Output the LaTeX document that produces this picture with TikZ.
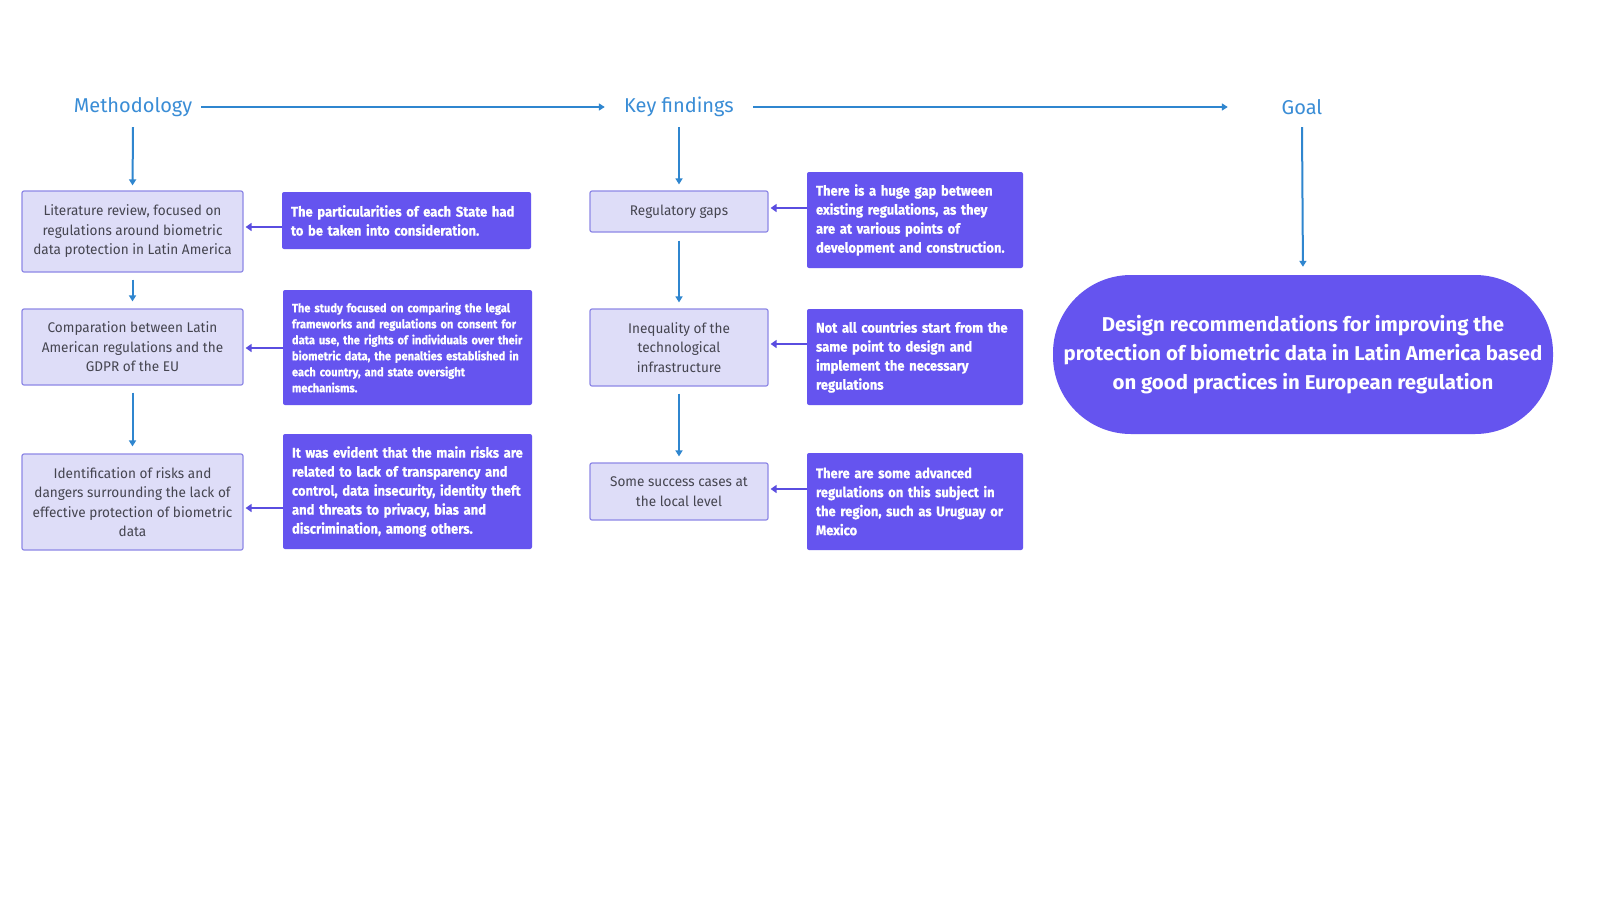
\documentclass[tikz,border=0pt]{standalone}
\usepackage{fontspec}
\setmainfont{Fira Sans}
\newfontfamily\headf{Fira Sans}
\newfontfamily\lightf[FakeStretch=0.97]{Fira Sans}
\newfontfamily\darkf[FakeStretch=0.93,FakeBold=0.6]{Fira Sans}
\newfontfamily\goalf[FakeStretch=1.02]{Fira Sans}
\usetikzlibrary{arrows.meta}
\definecolor{hblue}{HTML}{3A8DD6}
\definecolor{ablue}{HTML}{2F86CF}
\definecolor{lfill}{HTML}{DEDDF8}
\definecolor{lbord}{HTML}{8E88E6}
\definecolor{dfill}{HTML}{6554EF}
\definecolor{parr}{HTML}{5A4DE0}
\definecolor{ltext}{HTML}{454550}
\tikzset{
  heading/.style={text=hblue, font=\headf\fontsize{20}{24}\selectfont, inner sep=0pt, minimum height=40pt},
  lightbox/.style={draw=lbord, line width=1.2pt, fill=lfill, rounded corners=2pt, align=center, text=ltext,
    font=\lightf\fontsize{14}{19.5}\selectfont, inner sep=0pt},
  darkbox/.style={fill=dfill, rounded corners=2pt, align=left, text=white,
    font=\darkf\bfseries\fontsize{14}{19}\selectfont, inner sep=0pt},
  barrow/.style={draw=ablue, line width=2pt, -{Triangle[length=6pt,width=7pt]}},
  parrow/.style={draw=parr, line width=2.6pt, -{Triangle[length=6pt,width=8pt]}},
}
\begin{document}
\begin{tikzpicture}[x=1pt,y=-1pt]
\useasboundingbox (0,0) rectangle (1600,900);
\fill[white] (0,0) rectangle (1600,900);
% headings
\node[heading, minimum width=136pt] (meth) at (133,107) {Methodology};
\node[heading, minimum width=148pt] (kf) at (679,107) {Key findings};
\node[heading, minimum width=148pt] (goal) at (1302,107) {Goal};
\draw[barrow] (meth.east) -- (kf.west);
\draw[barrow] (kf.east) -- (goal.west);
% left column
\node[lightbox, minimum width=221pt, minimum height=81pt] (l1) at (132.5,231.5)
  {Literature review, focused on\\regulations around biometric\\data protection in Latin America};
\node[lightbox, minimum width=221pt, minimum height=76pt] (l2) at (132.5,347)
  {Comparation between Latin\\American regulations and the\\GDPR of the EU};
\node[lightbox, minimum width=221pt, minimum height=96pt] (l3) at (132.5,502)
  {Identification of risks and\\dangers surrounding the lack of\\effective protection of biometric\\data};
\node[darkbox, minimum width=249pt, minimum height=57pt, text width=231pt] (d1) at (406.5,220.5)
  {The particularities of each State had\\to be taken into consideration.};
\node[darkbox, minimum width=249pt, minimum height=115pt, text width=231pt,
  font=\darkf\bfseries\fontsize{11.9}{16}\selectfont] (d2) at (407.5,347.5)
  {The study focused on comparing the legal\\frameworks and regulations on consent for\\data use, the rights of individuals over their\\biometric data, the penalties established in\\each country, and state oversight\\mechanisms.};
\node[darkbox, minimum width=249pt, minimum height=115pt, text width=231pt] (d3) at (407.5,491.5)
  {It was evident that the main risks are\\related to lack of transparency and\\control, data insecurity, identity theft\\and threats to privacy, bias and\\discrimination, among others.};
% middle column
\node[lightbox, minimum width=178pt, minimum height=41pt] (m1) at (679,211.5) {Regulatory gaps};
\node[lightbox, minimum width=178pt, minimum height=77pt] (m2) at (679,347.5)
  {Inequality of the\\technological\\infrastructure};
\node[lightbox, minimum width=178pt, minimum height=57pt] (m3) at (679,491.5)
  {Some success cases at\\the local level};
\node[darkbox, minimum width=216pt, minimum height=96pt, text width=198pt] (d4) at (915,220)
  {There is a huge gap between\\existing regulations, as they\\are at various points of\\development and construction.};
\node[darkbox, minimum width=216pt, minimum height=96pt, text width=198pt] (d5) at (915,357)
  {Not all countries start from the\\same point to design and\\implement the necessary\\regulations};
\node[darkbox, minimum width=216pt, minimum height=97pt, text width=198pt] (d6) at (915,501.5)
  {There are some advanced\\regulations on this subject in\\the region, such as Uruguay or\\Mexico};
% goal
\node[fill=dfill, rounded corners=78pt, minimum width=500pt, minimum height=159pt, inner sep=0pt,
  align=center, text=white, font=\goalf\bfseries\fontsize{20}{29}\selectfont] (g) at (1303,354.5)
  {Design recommendations for improving the\\protection of biometric data in Latin America based\\on good practices in European regulation};
% helper levels
\coordinate (y1) at (0,227);
\coordinate (y2) at (0,348);
\coordinate (y3) at (0,508);
\coordinate (y4) at (0,208);
\coordinate (y5) at (0,344);
\coordinate (y6) at (0,489);
% vertical arrows
\draw[barrow, shorten >=5pt] (meth.south) -- (l1.north);
\draw[barrow, shorten <=7pt, shorten >=7pt] (l1.south) -- (l2.north);
\draw[barrow, shorten <=7pt, shorten >=7pt] (l2.south) -- (l3.north);
\draw[barrow, shorten >=6pt] (kf.south) -- (m1.north);
\draw[barrow, shorten <=8pt, shorten >=6pt] (m1.south) -- (m2.north);
\draw[barrow, shorten <=7pt, shorten >=6pt] (m2.south) -- (m3.north);
\draw[barrow, shorten >=8pt] (goal.south) -- (g.north);
% horizontal arrows
\draw[parrow, shorten >=2pt] (d1.west |- y1) -- (l1.east |- y1);
\draw[parrow, shorten >=2pt] (d2.west |- y2) -- (l2.east |- y2);
\draw[parrow, shorten >=2pt] (d3.west |- y3) -- (l3.east |- y3);
\draw[parrow, shorten >=2pt] (d4.west |- y4) -- (m1.east |- y4);
\draw[parrow, shorten >=2pt] (d5.west |- y5) -- (m2.east |- y5);
\draw[parrow, shorten >=2pt] (d6.west |- y6) -- (m3.east |- y6);
\end{tikzpicture}
\end{document}
